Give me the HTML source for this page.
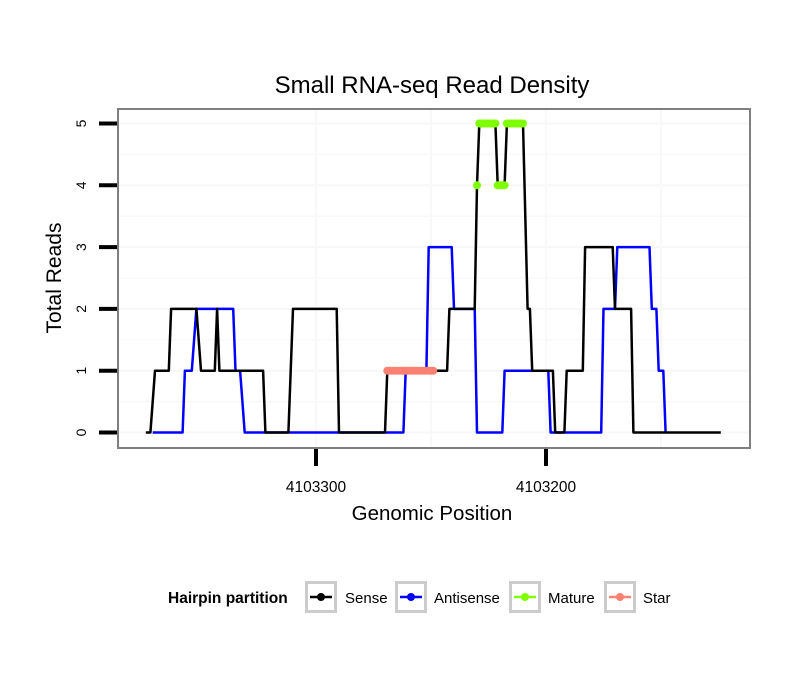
<!DOCTYPE html>
<html><head><meta charset="utf-8"><style>
body{margin:0;background:#fff;}
text{font-family:"Liberation Sans",Arial,sans-serif;}
</style></head><body>
<svg id="chart" width="810" height="690" xmlns="http://www.w3.org/2000/svg">
<text x="432" y="93" font-size="24" text-anchor="middle">Small RNA-seq Read Density</text>
<rect x="118" y="109" width="632" height="339" fill="#fff"/>
<g id="grid"></g>
<g id="series"></g>
<rect x="118" y="109" width="632" height="339" fill="none" stroke="#7f7f7f" stroke-width="2"/>
<g id="yaxis"></g>
<g id="xaxis"></g>
<text x="432" y="520" font-size="20.5" text-anchor="middle">Genomic Position</text>
<text transform="translate(61,278) rotate(-90)" font-size="21" text-anchor="middle">Total Reads</text>
<g id="legend">
<text x="168" y="603" font-size="15.5" font-weight="bold">Hairpin partition</text>
</g>
</svg>
<script>
const yTicks=[0,1,2,3,4,5];
const xTicks=[4103300,4103200];
const xMinor=[4103250,4103150];
const senseP=[4103374,4103372,4103370,4103364,4103363,4103352,4103350,4103344,4103343,4103342,4103323,4103322,4103312,4103310,4103291,4103290,4103270,4103269,4103243,4103242,4103231,4103230,4103229,4103222,4103221,4103218,4103217,4103210,4103208,4103207,4103206,4103197,4103196,4103192,4103191,4103184,4103183,4103171,4103170,4103163,4103162,4103124];
const senseV=[0,0,1,1,2,2,1,1,2,1,1,0,0,2,2,0,0,1,1,2,2,4,5,5,4,4,5,5,2,2,1,1,0,0,1,1,3,3,2,2,0,0];
const antiP=[4103371,4103358,4103357,4103354,4103352,4103336,4103335,4103333,4103331,4103262,4103261,4103252,4103251,4103241,4103240,4103231,4103230,4103219,4103218,4103199,4103198,4103176,4103175,4103170,4103169,4103155,4103154,4103152,4103151,4103149,4103148];
const antiV=[0,0,1,1,2,2,1,1,0,0,1,1,3,3,2,2,0,0,1,1,0,0,2,2,3,3,2,2,1,1,0];
const matureP=[4103230,4103229,4103228,4103227,4103226,4103225,4103224,4103223,4103222,4103221,4103220,4103219,4103218,4103217,4103216,4103215,4103214,4103213,4103212,4103211,4103210];
const matureV=[4,5,5,5,5,5,5,5,5,4,4,4,4,5,5,5,5,5,5,5,5];
const starP=[4103269,4103268,4103267,4103266,4103265,4103264,4103263,4103262,4103261,4103260,4103259,4103258,4103257,4103256,4103255,4103254,4103253,4103252,4103251,4103250,4103249];
const starV=[1,1,1,1,1,1,1,1,1,1,1,1,1,1,1,1,1,1,1,1,1];
const legendLabels=["Sense","Antisense","Mature","Star"];
const legendColors=["#000000","#0000ff","#7fff00","#fa8072"];

const NS="http://www.w3.org/2000/svg";
const X=p=>316+(4103300-p)*2.3;
const Y=v=>432.5-v*61.8;
function mk(tag,attrs,parent){const e=document.createElementNS(NS,tag);for(const k in attrs)e.setAttribute(k,attrs[k]);parent.appendChild(e);return e;}
const grid=document.getElementById('grid'),series=document.getElementById('series'),ya=document.getElementById('yaxis'),xa=document.getElementById('xaxis'),lg=document.getElementById('legend');
for(let v=0.5;v<5.5;v+=1){const l=mk('line',{x1:118,x2:750,y1:Y(v),y2:Y(v),stroke:'#f8f8f8','stroke-width':1.5},grid);

}
yTicks.forEach(v=>{const l=mk('line',{x1:118,x2:750,y1:Y(v),y2:Y(v),stroke:'#f7f7f7','stroke-width':2},grid);


const t=mk('line',{x1:99,x2:117,y1:Y(v),y2:Y(v),stroke:'#000','stroke-width':4},ya);


const tx=mk('text',{transform:`translate(86,${Y(v)}) rotate(-90)`,'font-size':14,'text-anchor':'middle'},ya);
tx.textContent=v;

});
xMinor.concat(xTicks).forEach(p=>{const l=mk('line',{x1:X(p),x2:X(p),y1:109,y2:448,stroke:'#f8f8f8','stroke-width':2},grid);

});
xTicks.forEach(p=>{const t=mk('line',{x1:X(p),x2:X(p),y1:449,y2:466,stroke:'#000','stroke-width':4},xa);


const tx=mk('text',{x:X(p),y:492,'font-size':15.5,'text-anchor':'middle'},xa);
tx.textContent=p;

});
function line(P,V,c,name){const d=P.map((p,i)=>(i?'L':'M')+X(p).toFixed(1)+','+Y(V[i]).toFixed(1)).join('');
const e=mk('path',{d,fill:'none',stroke:c,'stroke-width':2.5,'stroke-linejoin':'round'},series);

}
function pts(P,V,c,name){P.forEach((p,i)=>{const e=mk('circle',{cx:X(p),cy:Y(V[i]),r:4,fill:c},series);

});}
line(antiP,antiV,'#0000ff','antisense-line');
line(senseP,senseV,'#000000','sense-line');
pts(matureP,matureV,'#7fff00','mature-point');
pts(starP,starV,'#fa8072','star-point');
const boxX=[305,395,509,604],txtX=[345,434,548,643];
legendLabels.forEach((lab,i)=>{const b=mk('rect',{x:boxX[i]+1.5,y:582.5,width:29,height:29,fill:'#fff',stroke:'#cccccc','stroke-width':3},lg);


mk('line',{x1:boxX[i]+5,x2:boxX[i]+27,y1:597,y2:597,stroke:legendColors[i],'stroke-width':2.5},lg);
mk('circle',{cx:boxX[i]+16,cy:597,r:4,fill:legendColors[i]},lg);
const t=mk('text',{x:txtX[i],y:603,'font-size':15},lg);
t.textContent=lab;

});
</script>
</body></html>
